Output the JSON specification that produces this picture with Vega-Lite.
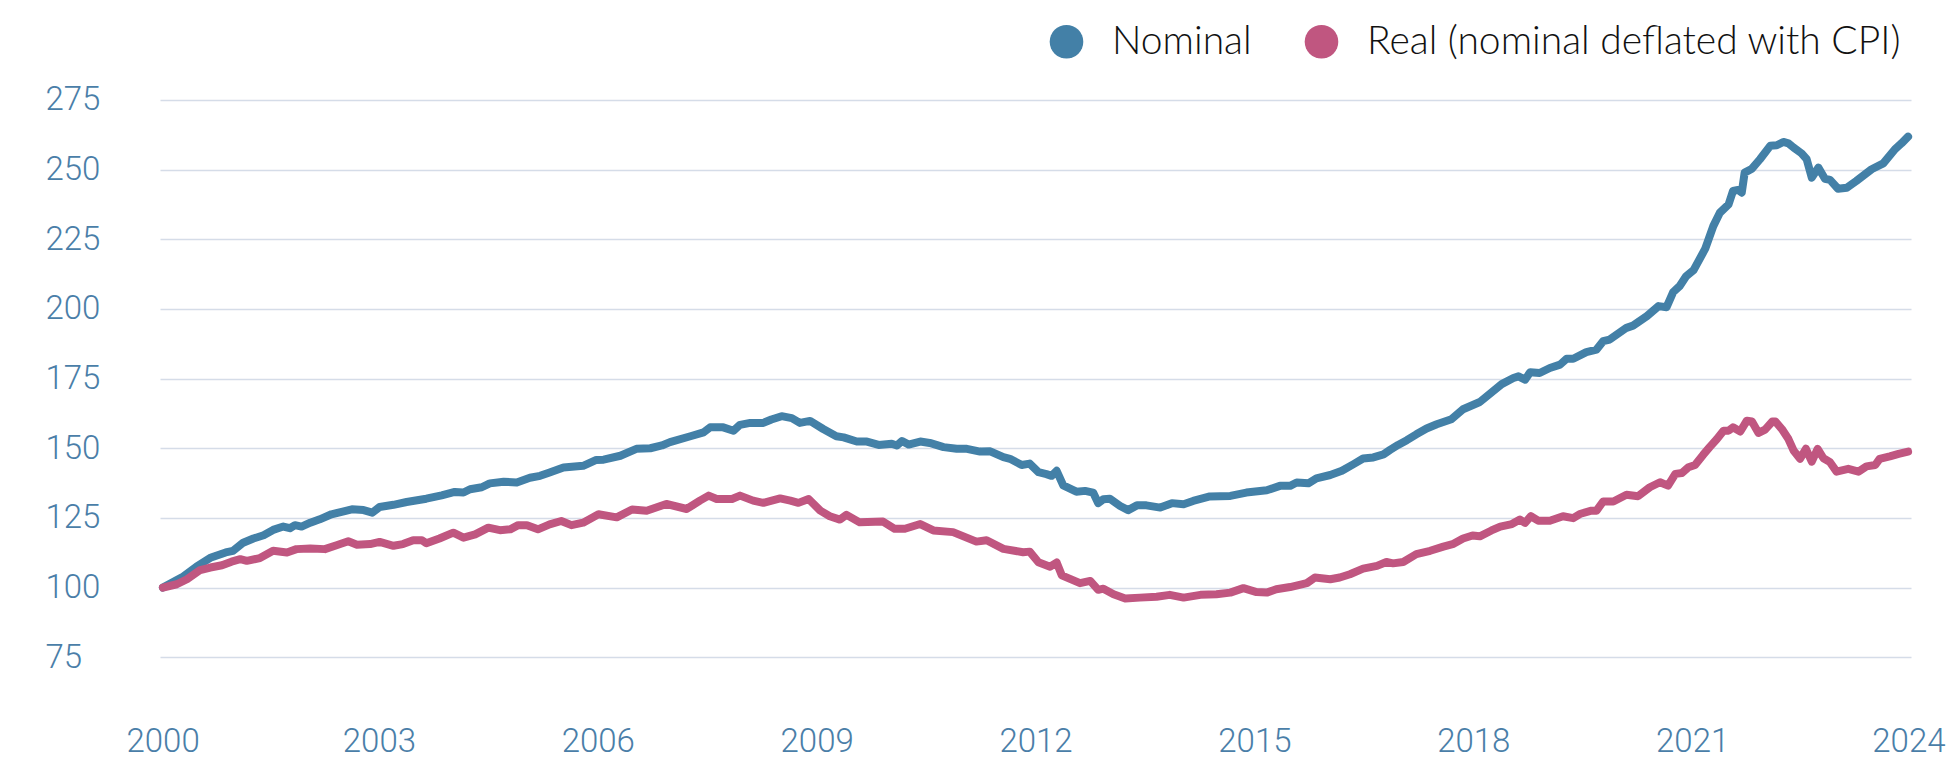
{
 "$schema": "https://vega.github.io/schema/vega-lite/v6.json",
 "width": 1751, "height": 641,
 "autosize": {"type": "none"},
 "padding": {"left": 160, "top": 72, "right": 35, "bottom": 47},
 "background": "white",
 "config": {"view": {"stroke": null}},
 "datasets": {
  "nom": [
   {"t":2000.04,"v":100},{"t":2000.32,"v":104},{"t":2000.5,"v":107.5},{"t":2000.7,"v":110.8},{"t":2000.9,"v":112.6},{"t":2001.0,"v":113.2},{"t":2001.14,"v":116.1},{"t":2001.28,"v":117.6},{"t":2001.42,"v":118.8},{"t":2001.55,"v":120.7},{"t":2001.69,"v":121.9},{"t":2001.78,"v":121.3},{"t":2001.85,"v":122.4},{"t":2001.94,"v":121.9},{"t":2002.06,"v":123.3},{"t":2002.19,"v":124.5},{"t":2002.35,"v":126.3},{"t":2002.49,"v":127.2},{"t":2002.63,"v":128.1},{"t":2002.79,"v":127.8},{"t":2002.91,"v":126.9},{"t":2003.01,"v":128.9},{"t":2003.2,"v":129.7},{"t":2003.38,"v":130.7},{"t":2003.65,"v":131.9},{"t":2003.86,"v":133.1},{"t":2004.04,"v":134.3},{"t":2004.16,"v":134.1},{"t":2004.25,"v":135.3},{"t":2004.41,"v":136.0},{"t":2004.52,"v":137.4},{"t":2004.71,"v":138.0},{"t":2004.89,"v":137.7},{"t":2005.07,"v":139.4},{"t":2005.21,"v":140.1},{"t":2005.34,"v":141.3},{"t":2005.53,"v":143.1},{"t":2005.8,"v":143.7},{"t":2005.98,"v":145.8},{"t":2006.08,"v":145.9},{"t":2006.31,"v":147.3},{"t":2006.53,"v":149.8},{"t":2006.72,"v":150},{"t":2006.88,"v":151},{"t":2006.99,"v":152.2},{"t":2007.27,"v":154.3},{"t":2007.45,"v":155.7},{"t":2007.54,"v":157.5},{"t":2007.72,"v":157.5},{"t":2007.86,"v":156.3},{"t":2007.95,"v":158.4},{"t":2008.09,"v":159.1},{"t":2008.27,"v":159.1},{"t":2008.38,"v":160.3},{"t":2008.52,"v":161.5},{"t":2008.66,"v":160.8},{"t":2008.77,"v":159.1},{"t":2008.91,"v":159.8},{"t":2009.09,"v":156.9},{"t":2009.27,"v":154.3},{"t":2009.37,"v":153.9},{"t":2009.55,"v":152.4},{"t":2009.69,"v":152.4},{"t":2009.85,"v":151.2},{"t":2010.03,"v":151.6},{"t":2010.1,"v":151},{"t":2010.17,"v":152.6},{"t":2010.26,"v":151.3},{"t":2010.42,"v":152.4},{"t":2010.55,"v":151.9},{"t":2010.74,"v":150.4},{"t":2010.92,"v":149.8},{"t":2011.06,"v":149.8},{"t":2011.24,"v":148.8},{"t":2011.38,"v":148.9},{"t":2011.56,"v":146.8},{"t":2011.65,"v":146.2},{"t":2011.81,"v":144},{"t":2011.92,"v":144.5},{"t":2012.04,"v":141.4},{"t":2012.15,"v":140.7},{"t":2012.22,"v":140.1},{"t":2012.29,"v":141.9},{"t":2012.38,"v":136.7},{"t":2012.56,"v":134.4},{"t":2012.68,"v":134.7},{"t":2012.79,"v":134.1},{"t":2012.86,"v":130.3},{"t":2012.93,"v":131.7},{"t":2013.02,"v":131.9},{"t":2013.16,"v":129.3},{"t":2013.27,"v":127.8},{"t":2013.39,"v":129.5},{"t":2013.52,"v":129.5},{"t":2013.71,"v":128.7},{"t":2013.87,"v":130.3},{"t":2014.03,"v":129.9},{"t":2014.16,"v":131.1},{"t":2014.39,"v":132.7},{"t":2014.67,"v":132.9},{"t":2014.89,"v":134.1},{"t":2015.17,"v":134.9},{"t":2015.35,"v":136.5},{"t":2015.49,"v":136.5},{"t":2015.58,"v":137.7},{"t":2015.74,"v":137.4},{"t":2015.85,"v":139.2},{"t":2016.04,"v":140.4},{"t":2016.2,"v":141.9},{"t":2016.36,"v":144.3},{"t":2016.49,"v":146.3},{"t":2016.63,"v":146.7},{"t":2016.77,"v":147.8},{"t":2016.86,"v":149.4},{"t":2016.97,"v":151.2},{"t":2017.09,"v":152.9},{"t":2017.22,"v":155},{"t":2017.36,"v":157.1},{"t":2017.5,"v":158.6},{"t":2017.7,"v":160.4},{"t":2017.86,"v":164},{"t":2018.09,"v":166.6},{"t":2018.39,"v":173},{"t":2018.55,"v":175.2},{"t":2018.62,"v":175.8},{"t":2018.71,"v":174.6},{"t":2018.78,"v":177.3},{"t":2018.91,"v":177},{"t":2019.05,"v":178.8},{"t":2019.19,"v":180},{"t":2019.28,"v":182.1},{"t":2019.37,"v":182.1},{"t":2019.55,"v":184.5},{"t":2019.69,"v":185.4},{"t":2019.78,"v":188.4},{"t":2019.87,"v":189},{"t":2020.1,"v":193.2},{"t":2020.19,"v":194},{"t":2020.38,"v":197.4},{"t":2020.54,"v":201},{"t":2020.65,"v":200.6},{"t":2020.74,"v":206},{"t":2020.83,"v":208.2},{"t":2020.92,"v":211.8},{"t":2021.02,"v":213.9},{"t":2021.18,"v":221.6},{"t":2021.29,"v":229.7},{"t":2021.38,"v":234.5},{"t":2021.5,"v":237.5},{"t":2021.56,"v":242.3},{"t":2021.63,"v":242.7},{"t":2021.68,"v":241.7},{"t":2021.72,"v":248.9},{"t":2021.82,"v":250.3},{"t":2021.93,"v":253.7},{"t":2022.07,"v":258.5},{"t":2022.16,"v":258.7},{"t":2022.25,"v":259.9},{"t":2022.32,"v":259.4},{"t":2022.39,"v":257.9},{"t":2022.5,"v":255.8},{"t":2022.57,"v":253.7},{"t":2022.64,"v":247.1},{"t":2022.73,"v":250.7},{"t":2022.82,"v":246.7},{"t":2022.89,"v":246.3},{"t":2023.0,"v":243.1},{"t":2023.12,"v":243.5},{"t":2023.25,"v":245.9},{"t":2023.46,"v":250.1},{"t":2023.62,"v":252.2},{"t":2023.78,"v":257.3},{"t":2023.87,"v":259.4},{"t":2023.96,"v":261.8}
  ],
  "real": [
   {"t":2000.04,"v":100},{"t":2000.23,"v":101.2},{"t":2000.37,"v":103},{"t":2000.55,"v":106.3},{"t":2000.69,"v":107.2},{"t":2000.85,"v":108},{"t":2000.98,"v":109.3},{"t":2001.1,"v":110.2},{"t":2001.19,"v":109.6},{"t":2001.37,"v":110.6},{"t":2001.55,"v":113.2},{"t":2001.74,"v":112.6},{"t":2001.87,"v":113.8},{"t":2002.06,"v":114},{"t":2002.26,"v":113.8},{"t":2002.42,"v":115.2},{"t":2002.58,"v":116.6},{"t":2002.7,"v":115.4},{"t":2002.88,"v":115.6},{"t":2003.01,"v":116.4},{"t":2003.2,"v":115},{"t":2003.33,"v":115.6},{"t":2003.47,"v":117},{"t":2003.59,"v":117},{"t":2003.65,"v":115.9},{"t":2003.83,"v":117.6},{"t":2004.02,"v":119.7},{"t":2004.16,"v":117.9},{"t":2004.32,"v":119.1},{"t":2004.5,"v":121.5},{"t":2004.66,"v":120.6},{"t":2004.8,"v":120.9},{"t":2004.91,"v":122.4},{"t":2005.03,"v":122.4},{"t":2005.18,"v":120.9},{"t":2005.34,"v":122.7},{"t":2005.5,"v":123.9},{"t":2005.64,"v":122.4},{"t":2005.8,"v":123.3},{"t":2006.01,"v":126.3},{"t":2006.26,"v":125.2},{"t":2006.47,"v":128},{"t":2006.67,"v":127.6},{"t":2006.94,"v":130},{"t":2007.22,"v":128.2},{"t":2007.4,"v":131.2},{"t":2007.52,"v":133},{"t":2007.63,"v":131.8},{"t":2007.84,"v":131.8},{"t":2007.95,"v":133},{"t":2008.13,"v":131.2},{"t":2008.27,"v":130.4},{"t":2008.5,"v":132},{"t":2008.64,"v":131.2},{"t":2008.75,"v":130.4},{"t":2008.89,"v":131.8},{"t":2009.05,"v":127.6},{"t":2009.18,"v":125.6},{"t":2009.32,"v":124.4},{"t":2009.41,"v":126.1},{"t":2009.59,"v":123.4},{"t":2009.91,"v":123.7},{"t":2010.07,"v":121.1},{"t":2010.21,"v":121.1},{"t":2010.42,"v":122.8},{"t":2010.6,"v":120.5},{"t":2010.87,"v":119.9},{"t":2011.19,"v":116.5},{"t":2011.33,"v":117},{"t":2011.56,"v":113.9},{"t":2011.83,"v":112.7},{"t":2011.92,"v":112.9},{"t":2012.04,"v":109.1},{"t":2012.2,"v":107.5},{"t":2012.29,"v":109},{"t":2012.36,"v":104.4},{"t":2012.61,"v":101.6},{"t":2012.75,"v":102.4},{"t":2012.86,"v":99.2},{"t":2012.93,"v":99.6},{"t":2013.07,"v":97.6},{"t":2013.23,"v":96.1},{"t":2013.43,"v":96.4},{"t":2013.66,"v":96.7},{"t":2013.84,"v":97.4},{"t":2014.03,"v":96.4},{"t":2014.26,"v":97.4},{"t":2014.48,"v":97.6},{"t":2014.67,"v":98.2},{"t":2014.85,"v":99.8},{"t":2015.03,"v":98.4},{"t":2015.17,"v":98.2},{"t":2015.3,"v":99.4},{"t":2015.49,"v":100.2},{"t":2015.72,"v":101.6},{"t":2015.83,"v":103.6},{"t":2016.04,"v":103},{"t":2016.17,"v":103.6},{"t":2016.31,"v":104.8},{"t":2016.49,"v":106.8},{"t":2016.68,"v":107.8},{"t":2016.81,"v":109.2},{"t":2016.9,"v":108.7},{"t":2017.04,"v":109.2},{"t":2017.22,"v":112},{"t":2017.41,"v":113.2},{"t":2017.59,"v":114.7},{"t":2017.73,"v":115.7},{"t":2017.86,"v":117.6},{"t":2017.99,"v":118.7},{"t":2018.09,"v":118.4},{"t":2018.25,"v":120.5},{"t":2018.37,"v":121.9},{"t":2018.53,"v":122.8},{"t":2018.64,"v":124.4},{"t":2018.71,"v":123.2},{"t":2018.79,"v":125.6},{"t":2018.89,"v":124},{"t":2019.05,"v":124},{"t":2019.23,"v":125.6},{"t":2019.37,"v":124.9},{"t":2019.46,"v":126.4},{"t":2019.62,"v":127.6},{"t":2019.69,"v":127.6},{"t":2019.78,"v":130.9},{"t":2019.92,"v":130.9},{"t":2020.1,"v":133.3},{"t":2020.26,"v":132.8},{"t":2020.42,"v":136},{"t":2020.56,"v":137.8},{"t":2020.67,"v":136.6},{"t":2020.77,"v":140.8},{"t":2020.86,"v":141.1},{"t":2020.95,"v":143.2},{"t":2021.04,"v":144},{"t":2021.15,"v":147.6},{"t":2021.24,"v":150.4},{"t":2021.34,"v":153.3},{"t":2021.43,"v":156.3},{"t":2021.5,"v":156.3},{"t":2021.56,"v":157.5},{"t":2021.66,"v":156},{"t":2021.75,"v":159.9},{"t":2021.82,"v":159.6},{"t":2021.91,"v":155.5},{"t":2022.0,"v":156.7},{"t":2022.1,"v":159.6},{"t":2022.14,"v":159.6},{"t":2022.23,"v":156.9},{"t":2022.32,"v":153.3},{"t":2022.39,"v":149.2},{"t":2022.48,"v":146.2},{"t":2022.56,"v":149.8},{"t":2022.64,"v":145.2},{"t":2022.72,"v":149.8},{"t":2022.8,"v":146.4},{"t":2022.89,"v":145},{"t":2022.98,"v":141.6},{"t":2023.14,"v":142.6},{"t":2023.28,"v":141.6},{"t":2023.39,"v":143.5},{"t":2023.51,"v":144},{"t":2023.57,"v":146.2},{"t":2023.71,"v":147.1},{"t":2023.83,"v":148},{"t":2023.96,"v":148.8}
  ]
 },
 "layer": [
  {
   "data": {"name": "nom"},
   "mark": {"type": "line", "strokeWidth": 8, "strokeCap": "round", "strokeJoin": "round"},
   "encoding": {
    "x": {"field": "t", "type": "quantitative"},
    "y": {"field": "v", "type": "quantitative"},
    "color": {"datum": "Nominal", "type": "nominal"}
   }
  },
  {
   "data": {"name": "real"},
   "mark": {"type": "line", "strokeWidth": 8, "strokeCap": "round", "strokeJoin": "round"},
   "encoding": {
    "x": {"field": "t", "type": "quantitative"},
    "y": {"field": "v", "type": "quantitative"},
    "color": {"datum": "Real (nominal deflated with CPI)", "type": "nominal"}
   }
  }
 ],
 "encoding": {
  "x": {"field": "t", "type": "quantitative",
   "scale": {"domain": [2000, 2024], "nice": false, "zero": false},
   "axis": {"values": [2000, 2003, 2006, 2009, 2012, 2015, 2018, 2021, 2024], "format": "d", "title": null, "grid": false, "domain": false, "ticks": false,
    "labelFont": "Roboto", "labelFontSize": 33, "labelFontWeight": 300, "labelColor": "#4a7ea8", "labelPadding": 12, "labelFlush": true, "labelFlushOffset": 34}},
  "y": {"field": "v", "type": "quantitative",
   "scale": {"domain": [55, 285], "nice": false, "zero": false},
   "axis": {"values": [75, 100, 125, 150, 175, 200, 225, 250, 275], "title": null, "domain": false, "ticks": false,
    "gridColor": "#d5dce8", "gridWidth": 1.5, "labelAlign": "left", "labelBaseline": "middle", "labelPadding": 115,
    "labelFont": "Roboto", "labelFontSize": 33, "labelFontWeight": 300, "labelColor": "#4a7ea8"}},
  "color": {"type": "nominal",
   "scale": {"domain": ["Nominal", "Real (nominal deflated with CPI)"], "range": ["#4380a7", "#c05680"]},
   "legend": {"title": null, "orient": "none", "legendX": 887, "legendY": -50, "direction": "horizontal",
    "symbolType": "circle", "symbolSize": 1130, "symbolStrokeWidth": 0, "labelFont": "Lato", "labelFontSize": 39, "labelFontWeight": 300, "labelColor": "#111111",
    "labelOffset": 26, "columnPadding": 50, "padding": 0, "labelLimit": 1000,
    "encode": {"symbols": {"update": {"fill": {"scale": "color", "field": "value"}, "opacity": {"value": 1}}}}}}
 }
}
